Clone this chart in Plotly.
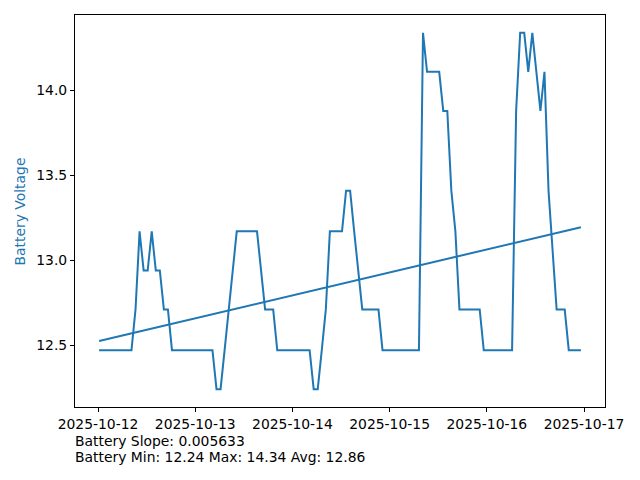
import pandas as pd
import plotly.graph_objects as go

first_time = "2025-10-12 00:16"
last_time = "2025-10-16 23:14"
voltage = (
    [12.47] * 9
    + [12.71, 13.17, 12.94, 12.94, 13.17, 12.94, 12.94, 12.71, 12.71]
    + [12.47] * 11
    + [12.24, 12.24, 12.47, 12.71, 12.94]
    + [13.17] * 6
    + [12.94, 12.71, 12.71, 12.71]
    + [12.47] * 9
    + [12.24, 12.24, 12.47, 12.71]
    + [13.17] * 4
    + [13.41, 13.41, 13.17, 12.94]
    + [12.71] * 5
    + [12.47] * 10
    + [14.34, 14.11, 14.11, 14.11, 14.11, 13.88, 13.88, 13.41, 13.17]
    + [12.71] * 6
    + [12.47] * 8
    + [13.88, 14.34, 14.34, 14.11, 14.34, 14.11, 13.88, 14.11, 13.41, 13.06]
    + [12.71] * 3
    + [12.47] * 4
)
trend_slope = 0.005633      # volts per hour
trend_intercept = 12.524
tick_dates = ["2025-10-12", "2025-10-13", "2025-10-14", "2025-10-15", "2025-10-16", "2025-10-17"]
y_ticks = [12.5, 13.0, 13.5, 14.0]
y_tick_labels = ["12.5", "13.0", "13.5", "14.0"]
info_lines = ["Battery Slope: 0.005633", "Battery Min: 12.24 Max: 14.34 Avg: 12.86"]

times = pd.date_range(first_time, last_time, periods=len(voltage))
hours = [(t - times[0]).total_seconds() / 3600 for t in times]
trend = [trend_intercept + trend_slope * h for h in hours]

blue = "#1f77b4"
font = "DejaVu Sans"
fs = 13.9

fig = go.Figure()
fig.add_trace(go.Scatter(x=times, y=voltage, mode="lines", line=dict(color=blue, width=2), showlegend=False))
fig.add_trace(go.Scatter(x=[times[0], times[-1]], y=[trend[0], trend[-1]], mode="lines",
                         line=dict(color=blue, width=2), showlegend=False))

pad = (times[-1] - times[0]) * 0.05
axis_common = dict(showgrid=False, zeroline=False, showline=True, mirror=True, linecolor="black",
                   linewidth=1, ticks="outside", ticklen=4, tickcolor="black", automargin=False,
                   tickfont=dict(family=font, size=fs, color="black"))
fig.update_xaxes(range=[times[0] - pad, times[-1] + pad], tickvals=pd.to_datetime(tick_dates),
                 ticktext=tick_dates, **axis_common)
vmin, vmax = min(voltage), max(voltage)
ypad = (vmax - vmin) * 0.05
fig.update_yaxes(range=[vmin - ypad, vmax + ypad], tickvals=y_ticks, ticktext=y_tick_labels,
                 **axis_common)

fig.add_annotation(text="Battery Voltage", xref="paper", yref="paper", x=-0.1038, y=0.4987,
                   textangle=-90, xanchor="center", yanchor="middle", showarrow=False,
                   font=dict(family=font, size=fs, color=blue))

for i, line in enumerate(info_lines):
    fig.add_annotation(text=line, xref="paper", yref="paper", x=-0.004, y=-0.0867 - i * 0.0408,
                       xanchor="left", yanchor="middle", showarrow=False,
                       font=dict(family=font, size=fs, color="black"))

fig.update_layout(width=640, height=480, margin=dict(l=75, r=35, t=15, b=73),
                  plot_bgcolor="white", paper_bgcolor="white", font=dict(family=font))
fig.write_html("out.html", config={"displayModeBar": False},
               post_script="document.body.style.margin='0';document.body.style.overflow='hidden';")
